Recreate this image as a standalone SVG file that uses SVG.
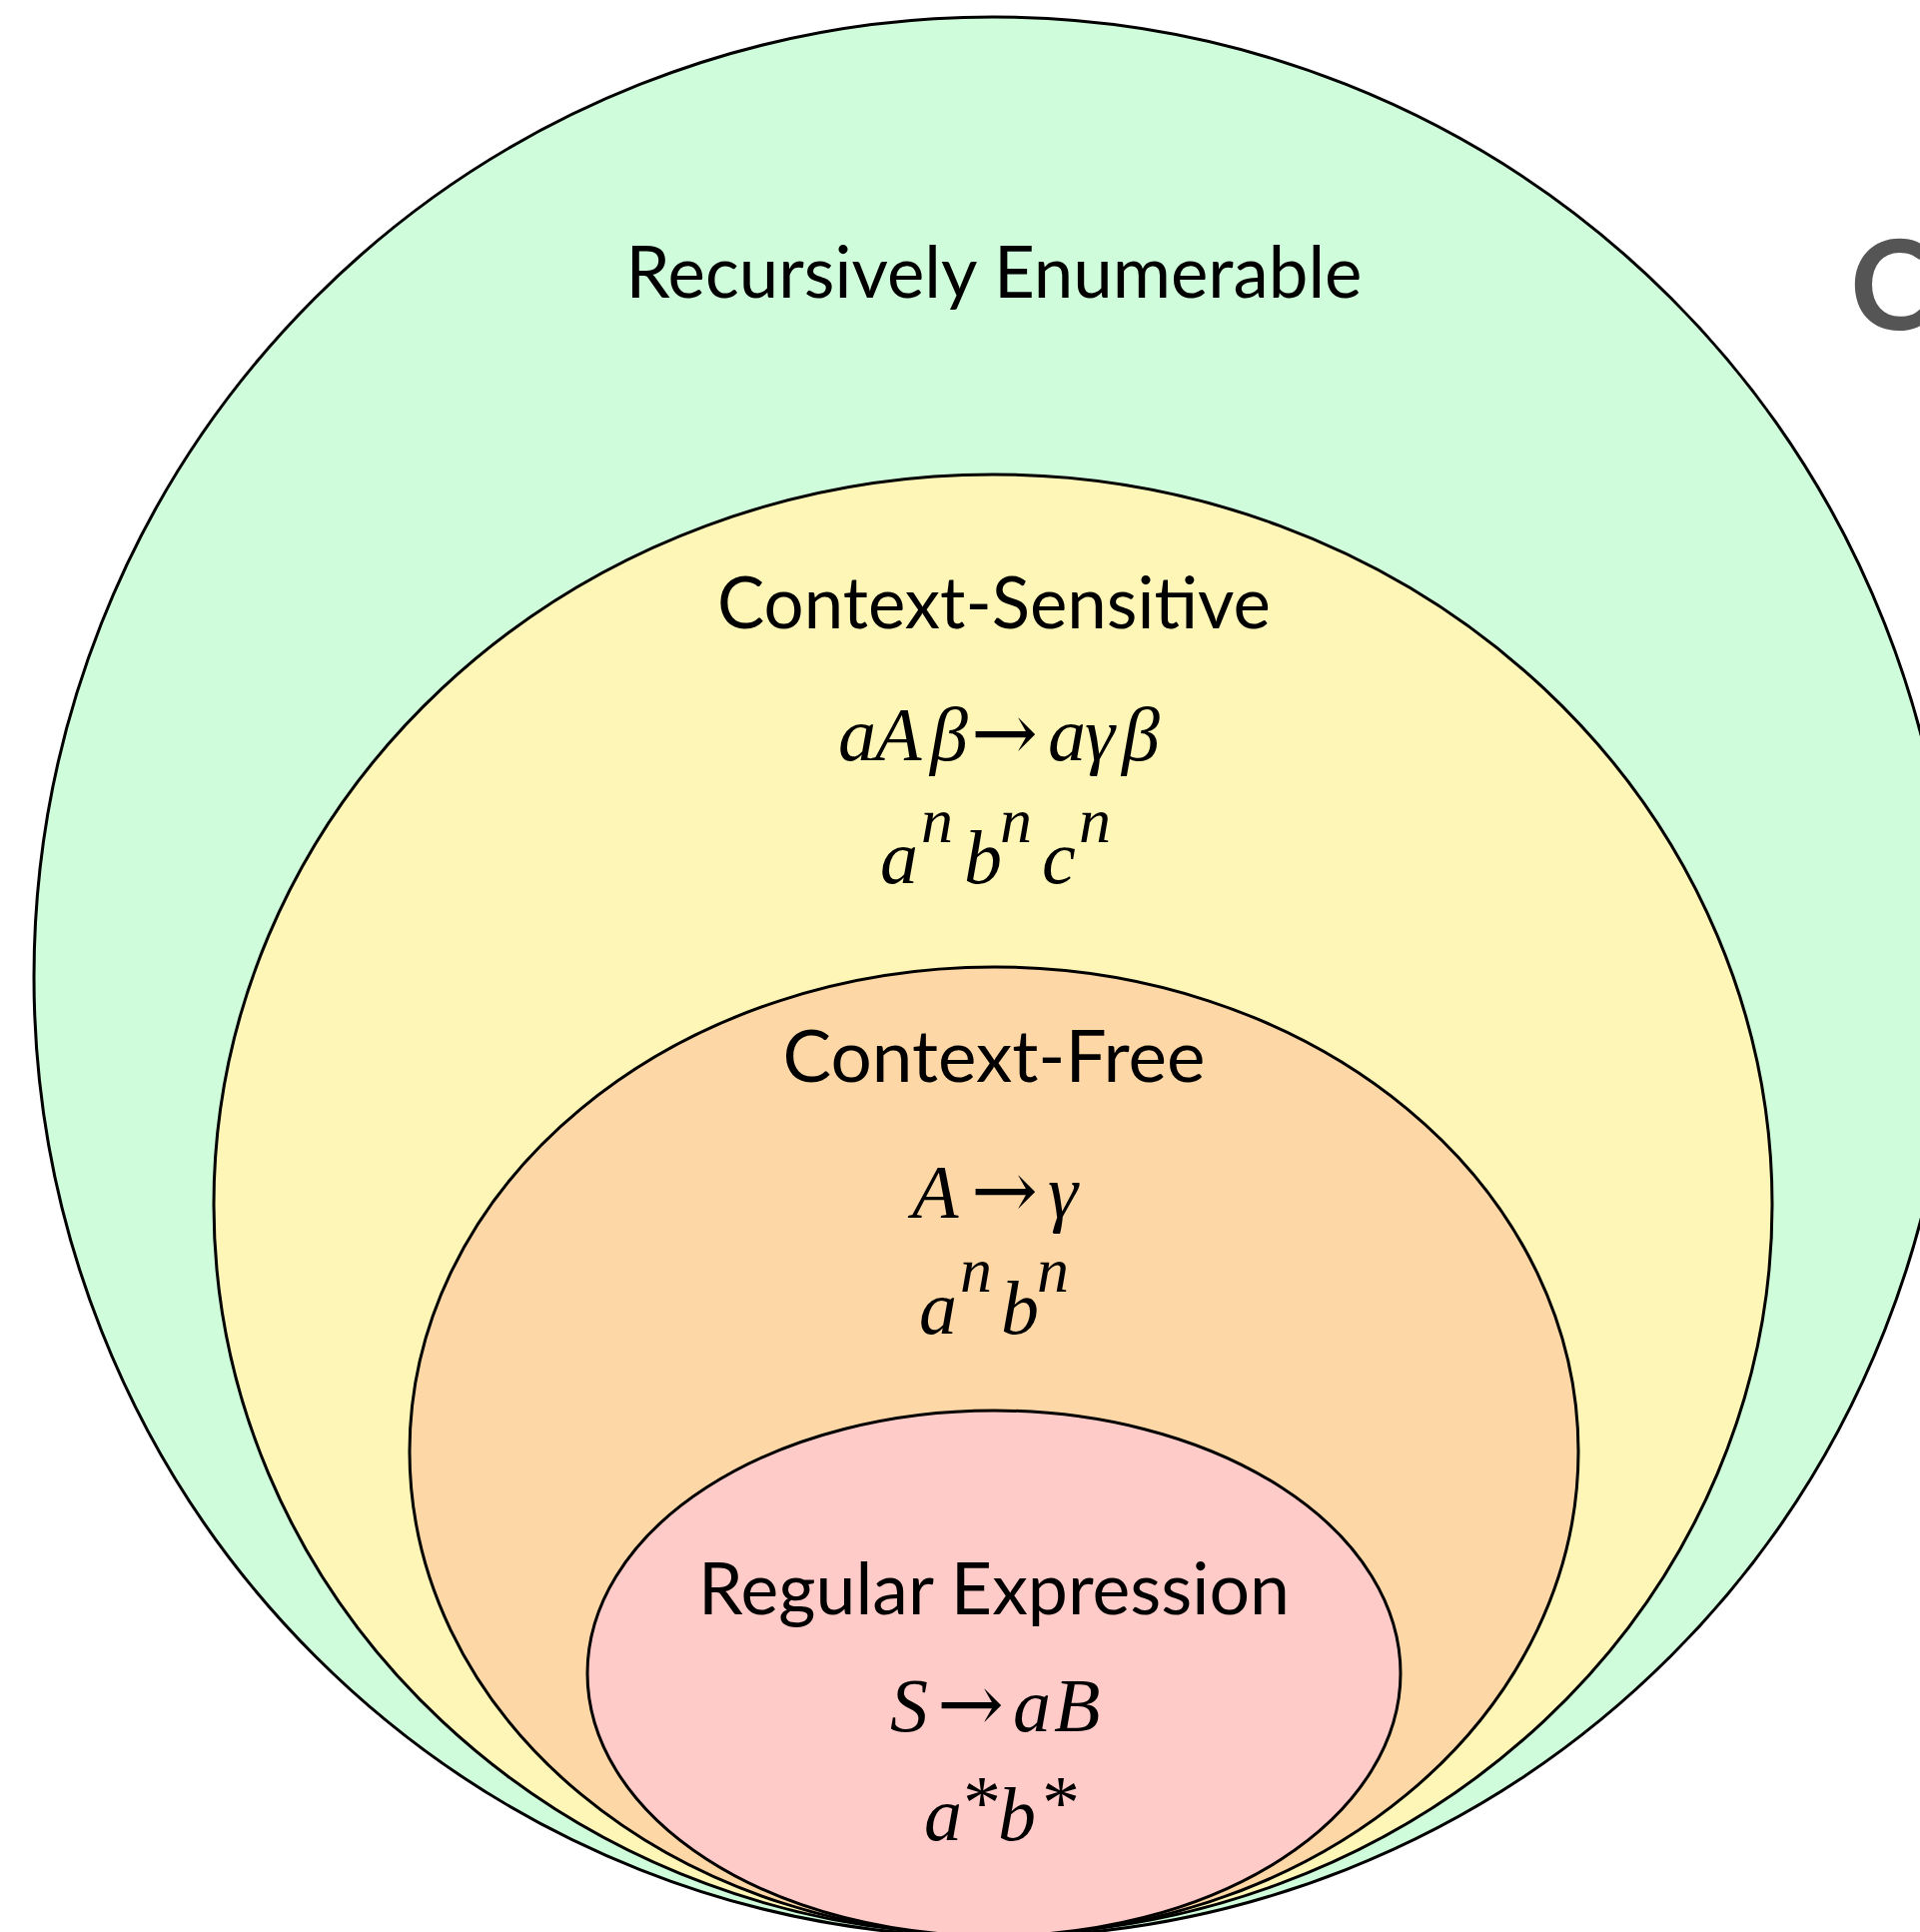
<svg xmlns="http://www.w3.org/2000/svg" width="1922" height="1934" viewBox="0 0 1922 1934">
  <style>
    .set { stroke: #000; stroke-width: 3; }
    .label { font-family: Lato, "Open Sans", "Liberation Sans", sans-serif; font-size: 71px; fill: #000; text-anchor: middle; }
    .math { font-family: "Liberation Serif", "DejaVu Serif", serif; font-style: italic; font-size: 76px; fill: #000; }
    .sup { font-size: 64px; }
    .op { font-family: "DejaVu Serif", serif; font-style: normal; font-size: 80px; }
    .star { font-style: normal; }
  </style>
  <rect width="1922" height="1934" fill="#ffffff"/>

  <g id="recursively-enumerable">
    <ellipse class="set" cx="994" cy="978" rx="960" ry="961" fill="#cffcda"/>
    <text class="label" x="995" y="298" textLength="737" lengthAdjust="spacingAndGlyphs">Recursively Enumerable</text>
  </g>

  <g id="context-sensitive">
    <ellipse class="set" cx="994" cy="1206" rx="780" ry="731" fill="#fef6b6"/>
    <text class="label" x="995" y="629" textLength="554" lengthAdjust="spacingAndGlyphs">Context-Sensitive</text>
    <text class="math" y="761"><tspan x="839">a</tspan><tspan x="876">A</tspan><tspan x="931">β</tspan><tspan class="op" x="972">→</tspan><tspan x="1049">a</tspan><tspan x="1086">γ</tspan><tspan x="1123">β</tspan></text>
    <text class="math" y="884"><tspan x="881">a</tspan><tspan x="965">b</tspan><tspan x="1043">c</tspan></text>
    <text class="math sup" y="843"><tspan x="922">n</tspan><tspan x="1001">n</tspan><tspan x="1080">n</tspan></text>
  </g>

  <g id="context-free">
    <ellipse class="set" cx="995" cy="1453" rx="585" ry="485" fill="#fdd7a5"/>
    <text class="label" x="995" y="1083" textLength="423" lengthAdjust="spacingAndGlyphs">Context-Free</text>
    <text class="math" y="1219"><tspan x="913">A</tspan><tspan class="op" x="972">→</tspan><tspan x="1049">γ</tspan></text>
    <text class="math" y="1335"><tspan x="920">a</tspan><tspan x="1002">b</tspan></text>
    <text class="math sup" y="1293"><tspan x="961">n</tspan><tspan x="1038">n</tspan></text>
  </g>

  <g id="regular-expression">
    <ellipse class="set" cx="995" cy="1675" rx="407" ry="263" fill="#ffcbc8"/>
    <text class="label" x="995" y="1616" textLength="592" lengthAdjust="spacingAndGlyphs">Regular Expression</text>
    <text class="math" y="1733"><tspan x="891">S</tspan><tspan class="op" x="938">→</tspan><tspan x="1014">a</tspan><tspan x="1055">B</tspan></text>
    <text class="math" y="1842"><tspan x="925">a</tspan><tspan class="star" x="964" dy="-12">*</tspan><tspan x="999" dy="12">b</tspan><tspan class="star" x="1043" dy="-12">*</tspan></text>
  </g>

  <!-- no connectors: the sets are drawn as nested regions -->
  <g id="connectors"/>

  <text x="1852" y="330" font-family="Lato, 'Open Sans', 'Liberation Sans', sans-serif" font-weight="bold" font-size="125" fill="#555555">C</text>
</svg>
